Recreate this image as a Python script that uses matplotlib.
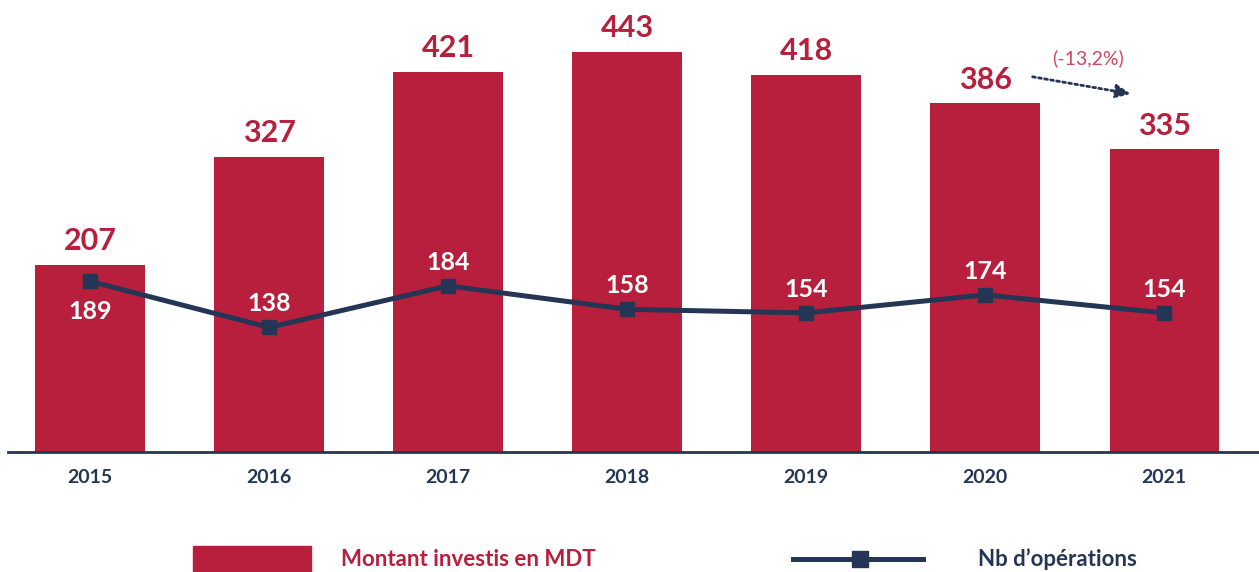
import numpy as np
import matplotlib.pyplot as plt
from matplotlib.patches import Rectangle
from matplotlib.lines import Line2D

plt.rcParams['font.family'] = ['Lato', 'DejaVu Sans']

# data
years = ['2015', '2016', '2017', '2018', '2019', '2020', '2021']
montant = [207, 327, 421, 443, 418, 386, 335]
nb_operations = [189, 138, 184, 158, 154, 174, 154]
variation_label = '(-13,2%)'

red = '#B71F3C'
navy = '#253556'

W, H = 1259, 572
fig = plt.figure(figsize=(W / 100, H / 100), dpi=100)
ax = fig.add_axes([8 / W, 120 / H, 1251 / W, 452 / H])

x = np.arange(len(years))
ax.bar(x, montant, width=0.61, color=red, zorder=1)
ax.plot(x, nb_operations, color=navy, lw=3.6, marker='s', ms=10,
        solid_capstyle='round', zorder=3)

# value labels
for xi, v in zip(x, montant):
    ax.annotate(str(v), (xi, v), xytext=(0, 17), textcoords='offset points',
                ha='center', va='center', color=red, fontsize=22, fontweight='bold')
for i, (xi, v) in enumerate(zip(x, nb_operations)):
    dy = -22 if i == 0 else 17
    ax.annotate(str(v), (xi, v), xytext=(0, dy), textcoords='offset points',
                ha='center', va='center', color='white', fontsize=18, fontweight='bold',
                zorder=4)

# variation arrow between 2020 and 2021
ax.annotate('', xy=(5.83, 396), xytext=(5.25, 416),
            arrowprops=dict(arrowstyle='-|>,head_length=0.9,head_width=0.4',
                            color=navy, lw=2, linestyle=(0, (1.0, 1.2))))
ax.text(5.575, 436, variation_label, ha='center', va='center',
        color='#D1475F', fontsize=14)

ax.set_xlim(-0.458, 6.53)
ax.set_ylim(0, 500.5)
ax.set_xticks(x)
ax.set_xticklabels(years, fontsize=14, fontweight='bold', color=navy)
ax.tick_params(axis='x', length=0, pad=12)
ax.set_yticks([])
for s in ['top', 'right', 'left']:
    ax.spines[s].set_visible(False)
ax.spines['bottom'].set_color(navy)
ax.spines['bottom'].set_linewidth(2)

# legend drawn in figure coords
fig.patches.append(Rectangle((193 / W, 0), 118 / W, 26 / H, transform=fig.transFigure,
                             color=red))
fig.text(341 / W, 13 / H, 'Montant investis en MDT', color=red, fontsize=16,
         fontweight='bold', va='center', ha='left')
fig.lines.append(Line2D([793 / W, 923 / W], [13 / H, 13 / H], transform=fig.transFigure,
                        color=navy, lw=3.6))
fig.lines.append(Line2D([860 / W], [13 / H], transform=fig.transFigure, color=navy,
                        marker='s', ms=12))
fig.text(978 / W, 13 / H, 'Nb d\u2019opérations', color=navy, fontsize=16,
         fontweight='bold', va='center', ha='left')

fig.savefig('out.png', dpi=100)
